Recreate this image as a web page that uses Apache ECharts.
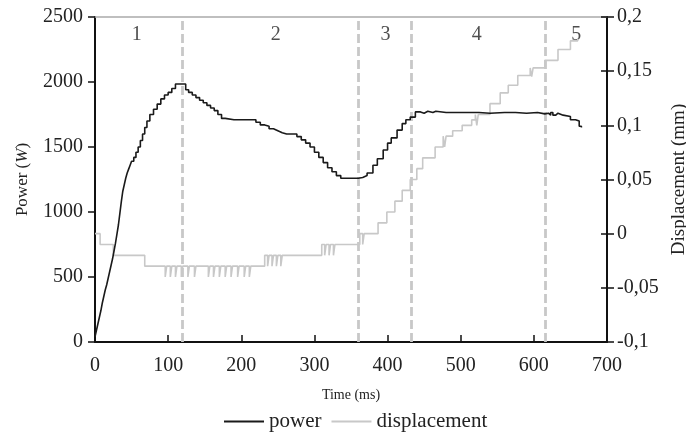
<!DOCTYPE html>
<html>
<head>
<meta charset="utf-8">
<script src="https://cdn.jsdelivr.net/npm/echarts@6/dist/echarts.min.js"></script>
<style>html,body{margin:0;padding:0;background:#fff}#c{width:686px;height:433px}</style>
</head>
<body>
<div id="c"></div>
<script>
// ---- data ----
var powerTime  = [0,2,4,6,8,10,12,14,16,18,20,22,24,26,28,30,32,34,36,38,40,42,44,46,48,50,53,56,59,62,65,68,71,75,80,85,90,95,100,105,110,115,120,124,128,133,138,143,148,153,158,163,168,173,178,190,200,216,220,226,232,238,244,250,256,262,270,276,282,288,294,300,306,312,318,324,330,336,345,355,360,366,372,380,386,394,400,405,413,420,425,431,438,445,450,455,462,466,480,500,520,525,527,540,560,575,577,590,605,615,620,623,626,630,633,640,650,657,662,665];
var powerValue = [40,90,140,190,240,300,350,400,440,490,540,590,640,700,760,830,900,990,1080,1160,1210,1260,1300,1330,1360,1390,1420,1460,1500,1550,1600,1650,1700,1750,1790,1830,1870,1900,1920,1950,1985,1985,1985,1940,1920,1900,1880,1860,1840,1820,1800,1780,1750,1720,1710,1710,1710,1710,1690,1670,1660,1640,1625,1610,1600,1600,1600,1580,1555,1530,1500,1460,1420,1380,1340,1310,1280,1260,1260,1260,1265,1280,1300,1360,1410,1477,1530,1570,1630,1680,1710,1730,1770,1760,1775,1765,1775,1765,1765,1765,1765,1775,1760,1765,1765,1775,1760,1765,1755,1760,1745,1765,1745,1760,1745,1735,1710,1700,1660,1650];
var dispTime  = [0,7,25,68,96,98,103,105,110,112,118,120,127,129,136,138,155,157,162,164,170,172,178,180,186,188,195,197,204,206,211,213,232,236,238,242,244,248,250,254,256,310,314,316,320,322,326,328,362,366,368,387,399,410,420,431,440,448,465,476,478,480,489,502,515,520,522,524,540,554,565,578,595,597,599,615,633,650,660];
var dispValue = [0,-0.01,-0.02,-0.03,-0.04,-0.03,-0.04,-0.03,-0.04,-0.03,-0.04,-0.03,-0.04,-0.03,-0.04,-0.03,-0.04,-0.03,-0.04,-0.03,-0.04,-0.03,-0.04,-0.03,-0.04,-0.03,-0.04,-0.03,-0.04,-0.03,-0.04,-0.03,-0.02,-0.03,-0.02,-0.03,-0.02,-0.03,-0.02,-0.03,-0.02,-0.01,-0.02,-0.01,-0.02,-0.01,-0.02,-0.01,0,-0.01,0,0.01,0.02,0.03,0.04,0.05,0.06,0.07,0.08,0.09,0.08,0.09,0.095,0.1,0.105,0.11,0.1,0.11,0.12,0.13,0.137,0.146,0.153,0.145,0.153,0.16,0.17,0.178,0.18];
var phaseBounds = [119, 360, 433, 615];
var phaseLabels = ['1','2','3','4','5'];
var phaseLabelTime = [57, 247, 397, 522, 658];
var phaseLabelPower = 2360;
var xTicks = {min:0, max:700, interval:100};
var powerTicks = {min:0, max:2500, interval:500};
var dispTicks = {min:-0.1, max:0.2, interval:0.05};

// ---- build ----
function pairs(a,b){return a.map(function(t,i){return [t,b[i]];});}
var FONT = '"Liberation Serif","DejaVu Serif",serif';
var TXT = '#222';
var chart = echarts.init(document.getElementById('c'));
chart.setOption({
  animation:false,
  textStyle:{fontFamily:FONT,color:TXT},
  grid:{left:95,right:79,top:17,bottom:91,containLabel:false,outerBoundsMode:'none'},
  legend:{
    top:406,left:219,itemWidth:40,itemHeight:10,itemGap:10,
    textStyle:{fontFamily:FONT,fontSize:21,color:TXT},
    data:[{name:'power',icon:'path://M0,4.1H40V5.9H0Z'},{name:'displacement',icon:'path://M0,4.1H40V5.9H0Z'}]
  },
  xAxis:[{
    type:'value',min:xTicks.min,max:xTicks.max,interval:xTicks.interval,
    name:'Time (ms)',nameLocation:'middle',nameGap:46,
    nameTextStyle:{fontFamily:FONT,fontSize:14,color:TXT},
    axisLine:{onZero:false,lineStyle:{color:'#111',width:2}},
    axisTick:{inside:true,length:7,lineStyle:{color:'#111',width:1.5}},
    axisLabel:{fontFamily:FONT,fontSize:20,color:TXT,margin:14},
    splitLine:{show:false}
  },{
    type:'value',position:'top',min:xTicks.min,max:xTicks.max,
    axisLine:{show:true,onZero:false,lineStyle:{color:'#aaa',width:1.5}},
    axisTick:{show:false},axisLabel:{show:false},splitLine:{show:false}
  }],
  yAxis:[{
    type:'value',min:powerTicks.min,max:powerTicks.max,interval:powerTicks.interval,
    name:'Power ({i|W})',nameLocation:'middle',nameGap:64,nameRotate:90,
    nameTextStyle:{fontFamily:FONT,fontSize:17,color:TXT,rich:{i:{fontFamily:FONT,fontSize:17,fontStyle:'italic',color:TXT}}},
    axisLine:{show:true,onZero:false,lineStyle:{color:'#111',width:2}},
    axisTick:{show:true,length:7,lineStyle:{color:'#111',width:1.5}},
    axisLabel:{fontFamily:FONT,fontSize:20,color:TXT,margin:12,formatter:function(v){return String(v);}},
    splitLine:{show:false}
  },{
    type:'value',position:'right',min:dispTicks.min,max:dispTicks.max,interval:dispTicks.interval,
    name:'Displacement (mm)',nameLocation:'middle',nameGap:60,nameRotate:90,
    nameTextStyle:{fontFamily:FONT,fontSize:19,color:TXT},
    axisLine:{show:true,onZero:false,lineStyle:{color:'#111',width:2}},
    axisTick:{show:true,length:7,lineStyle:{color:'#111',width:1.5}},
    axisLabel:{fontFamily:FONT,fontSize:20,color:TXT,margin:10,
      formatter:function(v){return String(+v.toFixed(2)).replace('.',',');}},
    splitLine:{show:false}
  },{
    type:'value',position:'right',min:dispTicks.min,max:dispTicks.max,interval:dispTicks.interval,
    axisLine:{show:false,onZero:false},
    axisTick:{show:true,inside:true,length:6,lineStyle:{color:'#111',width:1.5}},
    axisLabel:{show:false},splitLine:{show:false}
  }],
  series:[{
    name:'power',type:'line',step:'end',yAxisIndex:0,z:5,
    data:pairs(powerTime,powerValue),showSymbol:false,symbol:'none',
    itemStyle:{color:'#1a1a1a'},lineStyle:{color:'#1a1a1a',width:1.6}
  },{
    name:'displacement',type:'line',step:'end',yAxisIndex:1,z:3,
    data:pairs(dispTime,dispValue),showSymbol:false,symbol:'none',
    itemStyle:{color:'#c8c8c8'},lineStyle:{color:'#c8c8c8',width:1.6},
    markLine:{
      silent:true,symbol:'none',label:{show:false},
      lineStyle:{color:'#c8c8c8',type:[9,4],width:2.8},
      data:phaseBounds.map(function(t){return {xAxis:t};})
    }
  },{
    name:'phases',type:'scatter',yAxisIndex:0,symbolSize:0,silent:true,
    data:phaseLabelTime.map(function(t,i){return {value:[t,phaseLabelPower],name:phaseLabels[i]};}),
    label:{show:true,position:'inside',formatter:'{b}',fontFamily:FONT,fontSize:20,color:TXT}
  }]
});
</script>
</body>
</html>
